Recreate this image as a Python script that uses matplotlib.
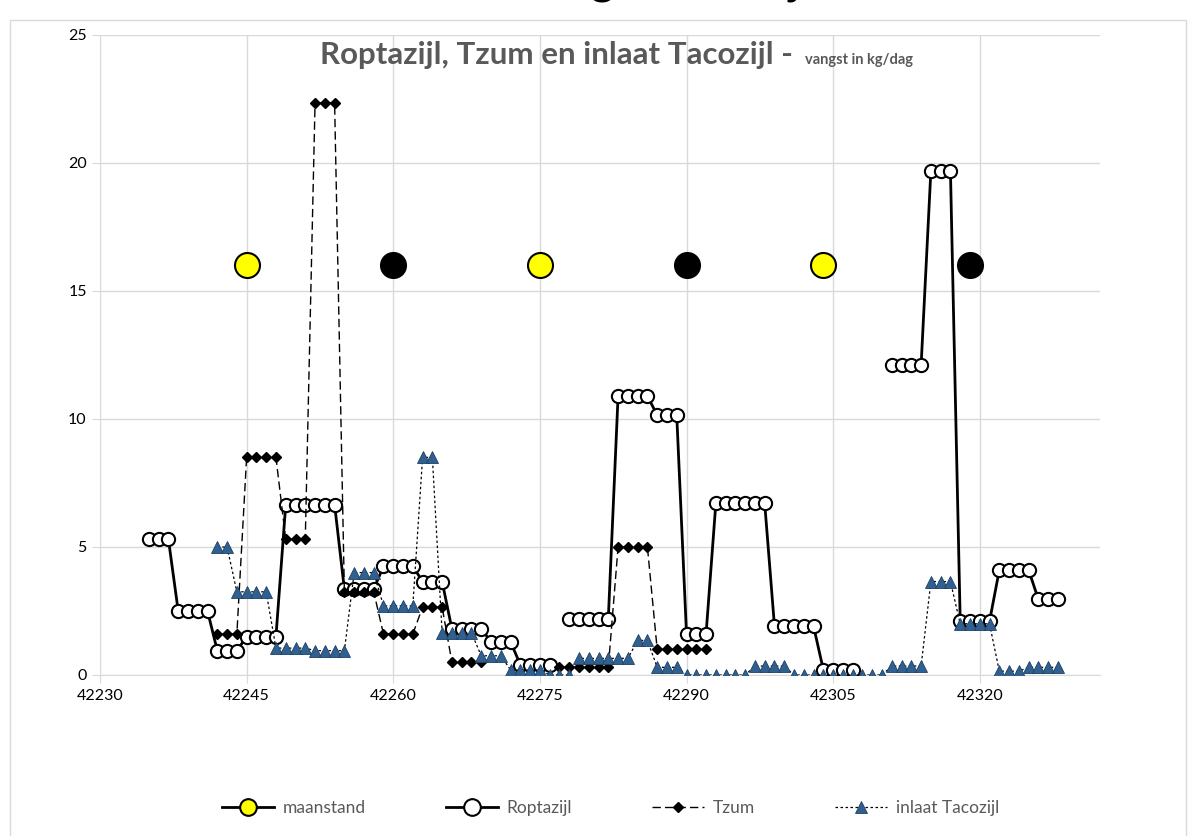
import numpy as np
import matplotlib.pyplot as plt
from matplotlib.lines import Line2D

plt.rcParams['font.family'] = ['Lato', 'DejaVu Sans']

nan = np.nan

# Roptazijl, dagelijkse vangst vanaf 42235
rop_start = 42235
roptazijl = [5.3, 5.3, 5.3, 2.5, 2.5, 2.5, 2.5, 0.95, 0.95, 0.95,
             1.5, 1.5, 1.5, 1.5, 6.65, 6.65, 6.65, 6.65, 6.65, 6.65,
             3.35, 3.35, 3.35, 3.35, 4.25, 4.25, 4.25, 4.25, 3.65, 3.65, 3.65,
             1.8, 1.8, 1.8, 1.8, 1.3, 1.3, 1.3, 0.4, 0.4, 0.4, 0.4, nan,
             2.2, 2.2, 2.2, 2.2, 2.2, 10.9, 10.9, 10.9, 10.9, 10.15, 10.15, 10.15,
             1.6, 1.6, 1.6, 6.7, 6.7, 6.7, 6.7, 6.7, 6.7,
             1.9, 1.9, 1.9, 1.9, 1.9, 0.2, 0.2, 0.2, 0.2, nan, nan, nan,
             12.1, 12.1, 12.1, 12.1, 19.7, 19.7, 19.7, 2.1, 2.1, 2.1, 2.1,
             4.1, 4.1, 4.1, 4.1, 2.95, 2.95, 2.95]

# Tzum vanaf 42242
tzum_start = 42242
tzum = [1.6, 1.6, 1.6, 8.5, 8.5, 8.5, 8.5, 5.3, 5.3, 5.3, 22.35, 22.35, 22.35,
        3.25, 3.25, 3.25, 3.25, 1.6, 1.6, 1.6, 1.6, 2.65, 2.65, 2.65,
        0.5, 0.5, 0.5, 0.5, nan, nan, nan, nan, nan, nan, nan,
        0.3, 0.3, 0.3, 0.3, 0.3, 0.3, 5.0, 5.0, 5.0, 5.0,
        1.0, 1.0, 1.0, 1.0, 1.0, 1.0]

# inlaat Tacozijl vanaf 42242
taco_start = 42242
tacozijl = [5.0, 5.0, 3.25, 3.25, 3.25, 3.25, 1.05, 1.05, 1.05, 1.05,
            0.95, 0.95, 0.95, 0.95, 4.0, 4.0, 4.0, 2.7, 2.7, 2.7, 2.7,
            8.5, 8.5, 1.65, 1.65, 1.65, 1.65, 0.75, 0.75, 0.75,
            0.2, 0.2, 0.2, 0.2, 0.0, 0.0, 0.0, 0.65, 0.65, 0.65, 0.65, 0.65, 0.65,
            1.35, 1.35, 0.3, 0.3, 0.3, 0.0, 0.0, 0.0, 0.0, 0.0, 0.0, 0.0,
            0.35, 0.35, 0.35, 0.35, 0.0, 0.0, 0.0, 0.0, 0.0, 0.0, 0.0, 0.0, 0.0, 0.0,
            0.35, 0.35, 0.35, 0.35, 3.65, 3.65, 3.65, 2.0, 2.0, 2.0, 2.0,
            0.15, 0.15, 0.15, 0.3, 0.3, 0.3, 0.3]

# maanstand
maan_dag = [42245, 42260, 42275, 42290, 42304, 42319]
maan_fase = ['vol', 'nieuw', 'vol', 'nieuw', 'vol', 'nieuw']
maan_y = 16

x_rop = np.arange(len(roptazijl)) + rop_start
x_tzum = np.arange(len(tzum)) + tzum_start
x_taco = np.arange(len(tacozijl)) + taco_start

fig = plt.figure(figsize=(11.97, 8.36), dpi=100)
ax = fig.add_axes([100/1197, 161/836, 1000/1197, 640/836])

# rand om de grafiek
fig.patches.append(plt.Rectangle((10/1197, -0.01), 1176/1197, 1 - 20/836 + 0.01,
                                 transform=fig.transFigure, fill=False,
                                 edgecolor='#d9d9d9', lw=1))

ax.plot(x_rop, roptazijl, color='black', lw=2, marker='o', ms=9.5,
        mfc='white', mec='black', mew=1.5, zorder=3)
ax.plot(x_tzum, tzum, color='black', lw=1, ls=(0, (6, 3)), marker='D', ms=5,
        mfc='black', mec='black', zorder=4)
ax.plot(x_taco, tacozijl, color='black', lw=0.9, ls=(0, (2, 2)), marker='^', ms=9,
        mfc='#30608f', mec='#1f4166', mew=0.6, zorder=5)

for d, f in zip(maan_dag, maan_fase):
    kleur = '#ffff00' if f == 'vol' else 'black'
    ax.plot([d], [maan_y], ls='none', marker='o', ms=18, mfc=kleur,
            mec='black', mew=1.5, zorder=6)

ax.set_xlim(42230, 42332.3)
ax.set_ylim(0, 25)
ax.set_xticks(np.arange(42230, 42330, 15))
ax.set_yticks(np.arange(0, 26, 5))
ax.grid(True, color='#d9d9d9', lw=1)
ax.set_axisbelow(True)
for s in ['top', 'right', 'left']:
    ax.spines[s].set_visible(False)
ax.spines['bottom'].set_color('#d9d9d9')
ax.tick_params(colors='black', labelsize=11.5, length=6, color='#d9d9d9')
ax.tick_params(axis='x', pad=4)

ax.text(0.70, 0.955, 'Roptazijl, Tzum en inlaat Tacozijl - ', transform=ax.transAxes,
        ha='right', va='baseline', fontsize=22.5, fontweight='bold', color='#595959')
ax.text(0.705, 0.955, 'vangst in kg/dag', transform=ax.transAxes,
        ha='left', va='baseline', fontsize=10.5, fontweight='bold', color='#595959')

# hoofdtitel, valt grotendeels buiten beeld
fig.text(0.497, 1.0 + 5/836, 'Glasaalvangst Tacozijl', ha='center', va='baseline',
         fontsize=32, fontweight='bold', color='black')

handles = [
    Line2D([], [], color='black', lw=2, marker='o', ms=12, mfc='#ffff00', mec='black', mew=1.5),
    Line2D([], [], color='black', lw=2, marker='o', ms=12, mfc='white', mec='black', mew=1.5),
    Line2D([], [], color='black', lw=1, ls=(0, (6, 3)), marker='D', ms=5, mfc='black'),
    Line2D([], [], color='black', lw=0.9, ls=(0, (2, 2)), marker='^', ms=9,
           mfc='#30608f', mec='#1f4166', mew=0.6),
]
labels = ['maanstand', 'Roptazijl', 'Tzum', 'inlaat Tacozijl']
fig.legend(handles, labels, loc='center', bbox_to_anchor=(0.51, 1 - 808/836), ncol=4,
           frameon=False, fontsize=12.5, handlelength=3.0, handletextpad=0.5,
           columnspacing=4.6, labelcolor='#595959')

plt.savefig('out.png', dpi=100)
